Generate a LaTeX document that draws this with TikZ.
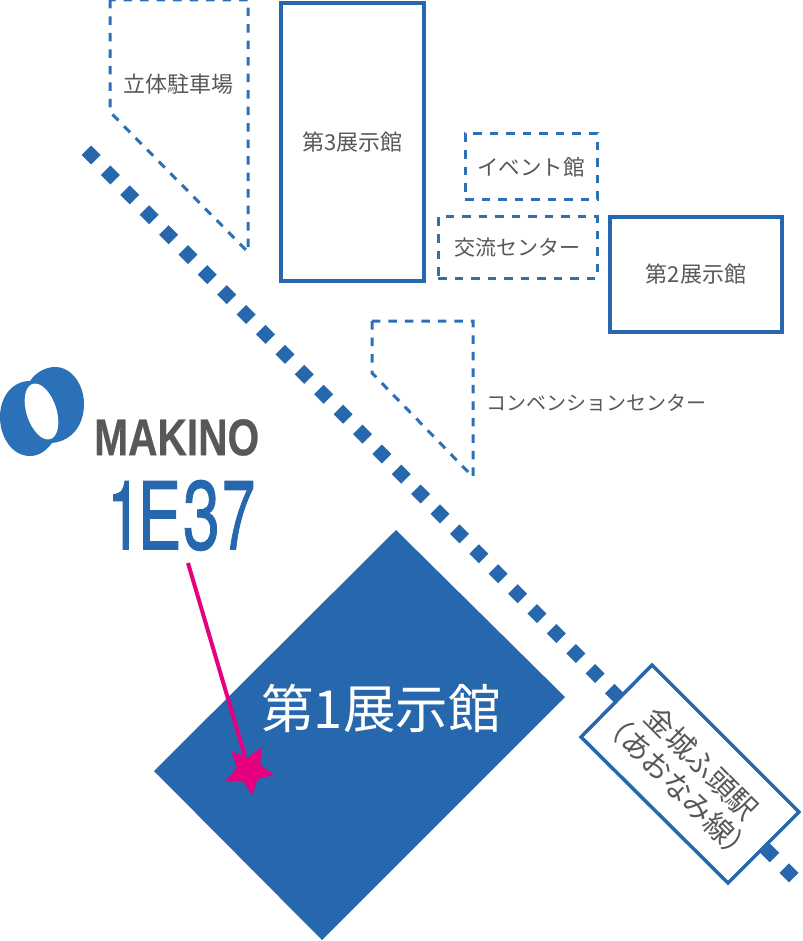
\documentclass[tikz,border=0pt]{standalone}
\usepackage{fontspec}
\usepackage{graphicx}
\setmainfont{Noto Sans CJK JP}
\newfontfamily\logofont[BoldFeatures={FakeBold=0.6}]{Liberation Sans}
\newfontfamily\boothfont[FakeBold=1.2]{TeX Gyre Heros}
\usetikzlibrary{shapes.geometric}
\definecolor{hallblue}{HTML}{2767AE}
\definecolor{dashblue}{HTML}{2E70B5}
\definecolor{logoblue}{HTML}{2B71B8}
\definecolor{labelgrey}{HTML}{595757}
\definecolor{pinkmark}{HTML}{E4007F}
\tikzset{
  solidhall/.style={draw=hallblue,line width=3.5pt,fill=white,inner sep=0pt,outer sep=0pt,anchor=north west,text=labelgrey,font=\fontsize{22}{26}\selectfont},
  dashhall/.style={draw=dashblue,line width=3pt,dash pattern=on 8.5pt off 8pt},
  dashbox/.style={dashhall,inner sep=0pt,outer sep=0pt,anchor=north west,text=labelgrey,font=\fontsize{21.5}{26}\selectfont},
  label/.style={text=labelgrey,inner sep=0pt,font=\fontsize{22}{26}\selectfont},
  dotmark/.style={fill=hallblue}
}
\begin{document}
\begin{tikzpicture}[x=1pt,y=-1pt]
\useasboundingbox (0,0) rectangle (802,941);
% railway
\foreach \i in {0,...,36}{
  \pgfmathsetmacro{\cx}{91+\i*19.39}
  \pgfmathsetmacro{\cy}{155+\i*19.94}
  \fill[dotmark] (\cx-9.5,\cy) -- (\cx,\cy-9.5) -- (\cx+9.5,\cy) -- (\cx,\cy+9.5) -- cycle;
}
% dashed outlines
\draw[dashhall] (110,0) -- (110,112) -- (248,252) -- (248,0) -- cycle;
\draw[dashhall] (372,321) -- (372,373) -- (473,477) -- (473,321) -- cycle;
\node[label] (parking) at (178,84) {立体駐車場};
\node[label,font=\fontsize{20}{24}\selectfont] (convention) at (596,403) {コンベンションセンター};
% halls
\node[solidhall,minimum width=143pt,minimum height=278pt] (hall3) at (281,3) {\raisebox{1.5pt}{第3展示館}};
\node[solidhall,minimum width=172pt,minimum height=115pt] (hall2) at (610,217) {\raisebox{1pt}{第2展示館}};
\node[dashbox,minimum width=132pt,minimum height=66pt] (event) at (465,134) {\raisebox{1pt}{イベント館}};
\node[dashbox,minimum width=159pt,minimum height=61pt,font=\fontsize{21}{26}\selectfont] (exchange) at (438,217) {交流センター};
% hall 1
\fill[hallblue] (396,530) -- (565,697) -- (322,940) -- (154,771) -- cycle;
\node[text=white,inner sep=0pt,font=\fontsize{52.5}{60}\selectfont] (hall1) at (381,708) {第1展示館};
% station
\filldraw[draw=hallblue,fill=white,line width=3.5pt] (652,665) -- (799,812) -- (728,883) -- (581,737) -- cycle;
\node[text=labelgrey,inner sep=0pt,rotate=-45,align=center,font=\fontsize{29}{33}\selectfont] (station) at (690,775) {金城ふ頭駅\\（あおなみ線）};
% logo
\fill[logoblue] (30,381) .. controls (36,372) and (46,367) .. (55,367)
  .. controls (72,367) and (84,385) .. (84,404)
  .. controls (84,425) and (72,441) .. (52,443)
  .. controls (46,451) and (39,456) .. (30,456)
  .. controls (12,456) and (0,437) .. (0,417)
  .. controls (0,397) and (12,381) .. (30,381) -- cycle;
\fill[white] (41.5,411.5) ellipse[x radius=15,y radius=29,rotate=18];
\node[inner sep=0pt,text=labelgrey,anchor=north west] (makino) at (94,419) {\resizebox{165pt}{36pt}{\logofont\bfseries MAKINO}};
\node[inner sep=0pt,text=hallblue,anchor=north west] (booth) at (107,480) {\boothfont\resizebox{34pt}{68pt}{1}\hspace{-3.7pt}\resizebox{44pt}{68pt}{E}\hspace{1.4pt}\resizebox{37pt}{69pt}{3}\hspace{2.1pt}\resizebox{33pt}{68pt}{7}};
% marker
\coordinate (boothfoot) at (188,563);
\node[star,star points=5,star point ratio=2.05,minimum size=51pt,inner sep=0pt,fill=pinkmark,shape border rotate=-29] (marker) at (249,770) {};
\draw[pinkmark,line width=4pt] (boothfoot) -- (marker);
\end{tikzpicture}
\end{document}
